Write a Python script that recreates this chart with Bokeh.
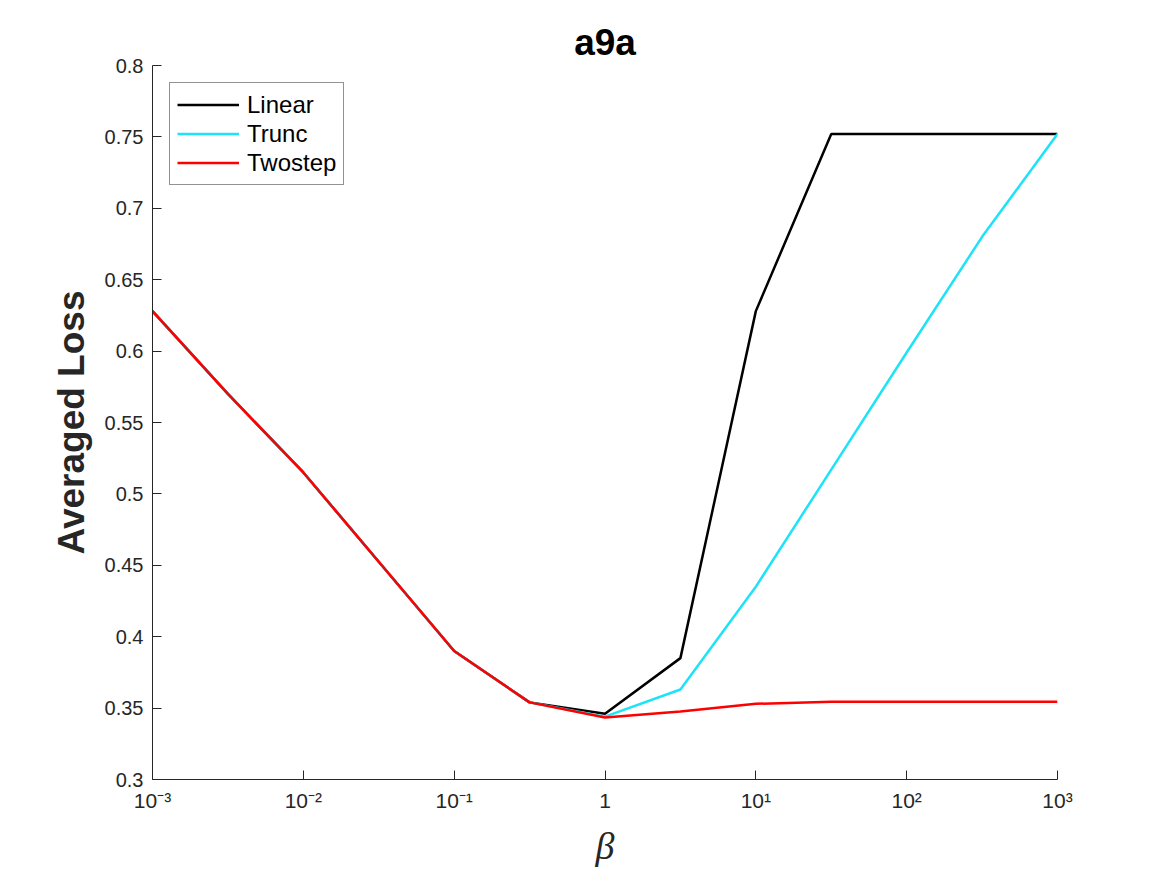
from bokeh.plotting import figure
from bokeh.models import FixedTicker, Legend, LegendItem, Range1d
from bokeh.embed import file_html
from bokeh.resources import INLINE

beta = [1e-3, 10**-2.5, 1e-2, 10**-1.5, 1e-1, 10**-0.5, 1, 10**0.5, 10, 10**1.5, 100, 10**2.5, 1000]
linear = [0.628, 0.570, 0.515, 0.4525, 0.390, 0.354, 0.346, 0.385, 0.628, 0.752, 0.752, 0.752, 0.752]
trunc = [0.628, 0.570, 0.515, 0.4525, 0.390, 0.354, 0.344, 0.363, 0.435, 0.517, 0.599, 0.680, 0.752]
twostep = [0.628, 0.570, 0.515, 0.4525, 0.390, 0.354, 0.3434, 0.3476, 0.353, 0.3545, 0.3545, 0.3545, 0.3545]

x_ticks = [1e-3, 1e-2, 1e-1, 1, 10, 100, 1000]
x_labels = ["10\u207b\u00b3", "10\u207b\u00b2", "10\u207b\u00b9", "1", "10\u00b9", "10\u00b2", "10\u00b3"]
y_ticks = [0.3, 0.35, 0.4, 0.45, 0.5, 0.55, 0.6, 0.65, 0.7, 0.75, 0.8]
y_labels = ["0.3", "0.35", "0.4", "0.45", "0.5", "0.55", "0.6", "0.65", "0.7", "0.75", "0.8"]

p = figure(width=1167, height=875, x_axis_type="log", output_backend="svg",
           toolbar_location=None, title="a9a",
           x_range=Range1d(1e-3, 1e3), y_range=Range1d(0.3, 0.8),
           min_border_left=152, min_border_right=110, min_border_top=65, min_border_bottom=96)
p.outline_line_color = None
p.xgrid.visible = False
p.ygrid.visible = False

p.title.align = "center"
p.title.text_font = "Liberation Sans"
p.title.text_font_size = "37px"
p.title.text_font_style = "bold"
p.title.text_color = "black"
p.title.standoff = 6

for ax in (p.xaxis[0], p.yaxis[0]):
    ax.axis_line_color = "#262626"
    ax.major_tick_line_color = "#262626"
    ax.major_tick_in = 9
    ax.major_tick_out = 0
    ax.minor_tick_line_color = None
    ax.major_label_text_font = "Liberation Sans"
    ax.major_label_text_font_size = "20px"
    ax.major_label_text_color = "#262626"

p.xaxis.ticker = FixedTicker(ticks=x_ticks)
p.xaxis.major_label_overrides = {t: l for t, l in zip(x_ticks, x_labels)}
p.xaxis.major_label_text_font_size = "21px"
p.yaxis.ticker = FixedTicker(ticks=y_ticks)
p.yaxis.major_label_overrides = {t: l for t, l in zip(y_ticks, y_labels)}
p.yaxis.major_label_standoff = 9
p.xaxis.major_label_standoff = 9

p.xaxis.axis_label = "\u03b2"
p.xaxis.axis_label_text_font = "Liberation Serif"
p.xaxis.axis_label_text_font_style = "italic"
p.xaxis.axis_label_text_font_size = "38px"
p.xaxis.axis_label_text_color = "#262626"
p.xaxis.axis_label_standoff = 10

p.yaxis.axis_label = "Averaged Loss"
p.yaxis.axis_label_text_font = "Liberation Sans"
p.yaxis.axis_label_text_font_style = "bold"
p.yaxis.axis_label_text_font_size = "37px"
p.yaxis.axis_label_text_color = "#262626"
p.yaxis.axis_label_standoff = 10

r1 = p.line(beta, linear, line_color="black", line_width=2.5)
r2 = p.line(beta, trunc, line_color="#1EE3F8", line_width=2.5)
r3 = p.line(beta, twostep, line_color="#FF0000", line_width=2.5)

legend = Legend(items=[LegendItem(label="Linear", renderers=[r1]),
                       LegendItem(label="Trunc", renderers=[r2]),
                       LegendItem(label="Twostep", renderers=[r3])],
                location="top_left")
legend.margin = 17
legend.padding = 7
legend.spacing = 0
legend.glyph_width = 62
legend.glyph_height = 29
legend.label_height = 29
legend.label_standoff = 8
legend.label_text_font = "Liberation Sans"
legend.label_text_font_size = "24px"
legend.label_text_color = "black"
legend.border_line_color = "#262626"
legend.border_line_width = 1
legend.background_fill_alpha = 1
p.add_layout(legend)

open("out.html", "w").write(file_html(p, INLINE))
